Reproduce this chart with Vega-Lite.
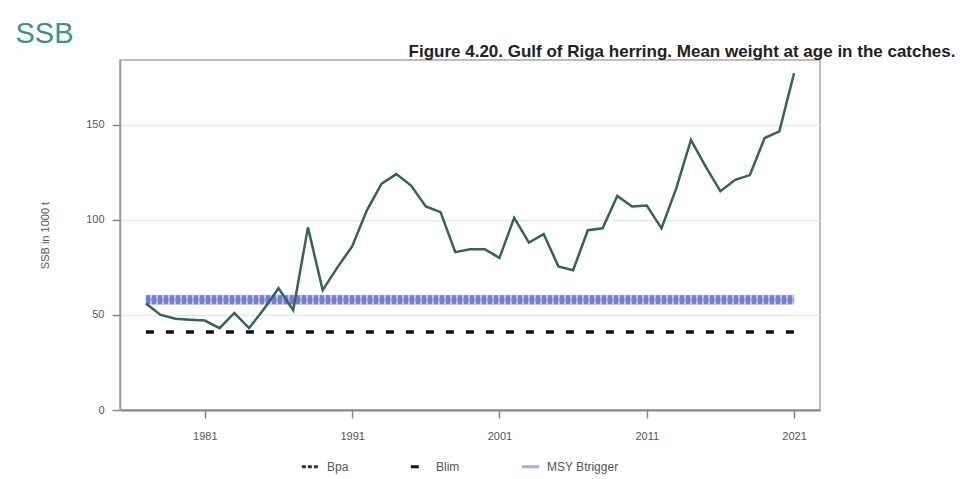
{
  "$schema": "https://vega.github.io/schema/vega-lite/v6.json",
  "width": 700,
  "height": 350,
  "autosize": {"type": "none"},
  "padding": {"left": 120, "top": 60, "right": 150, "bottom": 69},
  "background": "white",
  "config": {
    "font": "Liberation Sans",
    "view": {"stroke": "#a8a8a8", "strokeWidth": 1.5}
  },
  "resolve": {"axis": {"x": "independent", "y": "independent"}},
  "datasets": {
    "ssb": [
      {"year": 1977, "ssb": 56}, {"year": 1978, "ssb": 50}, {"year": 1979, "ssb": 48},
      {"year": 1980, "ssb": 47.5}, {"year": 1981, "ssb": 47}, {"year": 1982, "ssb": 43},
      {"year": 1983, "ssb": 51}, {"year": 1984, "ssb": 43}, {"year": 1985, "ssb": 53},
      {"year": 1986, "ssb": 64}, {"year": 1987, "ssb": 52.5}, {"year": 1988, "ssb": 96},
      {"year": 1989, "ssb": 63}, {"year": 1990, "ssb": 75}, {"year": 1991, "ssb": 86},
      {"year": 1992, "ssb": 105}, {"year": 1993, "ssb": 119}, {"year": 1994, "ssb": 124},
      {"year": 1995, "ssb": 118}, {"year": 1996, "ssb": 107}, {"year": 1997, "ssb": 104},
      {"year": 1998, "ssb": 83}, {"year": 1999, "ssb": 84.5}, {"year": 2000, "ssb": 84.5},
      {"year": 2001, "ssb": 80}, {"year": 2002, "ssb": 101}, {"year": 2003, "ssb": 88},
      {"year": 2004, "ssb": 92.5}, {"year": 2005, "ssb": 75.5}, {"year": 2006, "ssb": 73.5},
      {"year": 2007, "ssb": 94.5}, {"year": 2008, "ssb": 95.5}, {"year": 2009, "ssb": 112.5},
      {"year": 2010, "ssb": 107}, {"year": 2011, "ssb": 107.5}, {"year": 2012, "ssb": 95.5},
      {"year": 2013, "ssb": 116.5}, {"year": 2014, "ssb": 142}, {"year": 2015, "ssb": 128},
      {"year": 2016, "ssb": 115}, {"year": 2017, "ssb": 121}, {"year": 2018, "ssb": 123.5},
      {"year": 2019, "ssb": 143}, {"year": 2020, "ssb": 146.5}, {"year": 2021, "ssb": 177}
    ],
    "refs": [
      {"ref": "MSY Btrigger", "value": 58, "start": 1977, "end": 2021},
      {"ref": "Blim", "value": 41, "start": 1977, "end": 2021},
      {"ref": "Bpa", "value": 58, "start": 1977, "end": 2021}
    ]
  },
  "layer": [
    {
      "data": {"name": "refs"},
      "transform": [{"filter": "datum.ref === 'MSY Btrigger'"}],
      "mark": {"type": "rule", "color": "#c2c8ee", "strokeWidth": 10},
      "encoding": {
        "x": {
          "field": "start", "type": "quantitative",
          "scale": {"domain": [1975.24, 2022.76], "nice": false, "zero": false},
          "axis": {
            "orient": "top", "labels": false, "ticks": false, "domain": false, "grid": false,
            "title": "Figure 4.20. Gulf of Riga herring. Mean weight at age in the catches.",
            "titleX": 835, "titleY": -4, "titleAlign": "right", "titleAnchor": null,
            "titleBaseline": "alphabetic", "titleFontWeight": "bold", "titleFontSize": 17,
            "titleColor": "#222222", "titleFont": "Liberation Sans"
          }
        },
        "x2": {"field": "end"},
        "y": {
          "field": "value", "type": "quantitative",
          "scale": {"domain": [0, 184], "nice": false},
          "axis": {
            "orient": "right", "labels": false, "ticks": false, "domain": false, "grid": false,
            "title": "SSB", "titleAngle": 0, "titleX": -805, "titleY": -18,
            "titleAlign": "left", "titleBaseline": "alphabetic", "titleFontSize": 29,
            "titleFontWeight": "normal", "titleColor": "#3a9488"
          }
        }
      }
    },
    {
      "data": {"name": "refs"},
      "mark": {"type": "rule", "strokeWidth": 3.5},
      "encoding": {
        "x": {"field": "start", "type": "quantitative", "scale": {"domain": [1975.24, 2022.76], "nice": false, "zero": false}, "axis": null},
        "x2": {"field": "end"},
        "y": {"field": "value", "type": "quantitative", "scale": {"domain": [0, 184], "nice": false}, "axis": null},
        "color": {
          "field": "ref", "type": "nominal",
          "scale": {"domain": ["Bpa", "Blim", "MSY Btrigger"], "range": ["#2c2c3a", "#111111", "#9fb0e6"]},
          "legend": {
            "title": null, "orient": "none", "legendX": 180, "legendY": 396, "direction": "horizontal",
            "labelFontSize": 12, "labelColor": "#555555", "symbolType": "stroke", "symbolSize": 300,
            "symbolStrokeWidth": 3, "columnPadding": 55, "labelOffset": 6
          }
        },
        "strokeDash": {
          "field": "ref", "type": "nominal",
          "scale": {"domain": ["Bpa", "Blim", "MSY Btrigger"], "range": [[4, 2], [8, 12], [1, 0]]},
          "legend": {
            "title": null, "orient": "none", "legendX": 180, "legendY": 396, "direction": "horizontal",
            "labelFontSize": 12, "labelColor": "#555555", "symbolType": "stroke", "symbolSize": 300,
            "symbolStrokeWidth": 3, "columnPadding": 55, "labelOffset": 6
          }
        }
      }
    },
    {
      "data": {"name": "refs"},
      "transform": [{"filter": "datum.ref === 'Bpa'"}],
      "mark": {"type": "rule", "color": "#7680cb", "strokeWidth": 9, "strokeDash": [4, 2]},
      "encoding": {
        "x": {"field": "start", "type": "quantitative", "scale": {"domain": [1975.24, 2022.76], "nice": false, "zero": false}, "axis": null},
        "x2": {"field": "end"},
        "y": {"field": "value", "type": "quantitative", "scale": {"domain": [0, 184], "nice": false}, "axis": null}
      }
    },
    {
      "data": {"name": "ssb"},
      "mark": {"type": "line", "color": "#2f6659", "strokeWidth": 2.5},
      "encoding": {
        "x": {
          "field": "year", "type": "quantitative",
          "scale": {"domain": [1975.24, 2022.76], "nice": false, "zero": false},
          "axis": {
            "orient": "bottom", "values": [1981, 1991, 2001, 2011, 2021], "format": "d",
            "title": null, "grid": false, "labelFontSize": 11, "labelColor": "#555555",
            "tickColor": "#888888", "tickSize": 8, "tickWidth": 1.5, "domainColor": "#888888",
            "domainWidth": 2, "labelPadding": 12
          }
        },
        "y": {
          "field": "ssb", "type": "quantitative",
          "scale": {"domain": [0, 184], "nice": false},
          "axis": {
            "orient": "left", "values": [0, 50, 100, 150], "title": "SSB in 1000 t",
            "grid": true, "gridColor": "#e6e6e6", "gridWidth": 1.5, "labelFontSize": 11,
            "labelColor": "#555555", "tickColor": "#888888", "tickSize": 8, "tickWidth": 1.5,
            "domainColor": "#999999", "domainWidth": 1.5, "labelPadding": 8,
            "titleFontSize": 11, "titleFontWeight": "normal", "titleColor": "#555555",
            "titlePadding": 35
          }
        }
      }
    }
  ]
}
